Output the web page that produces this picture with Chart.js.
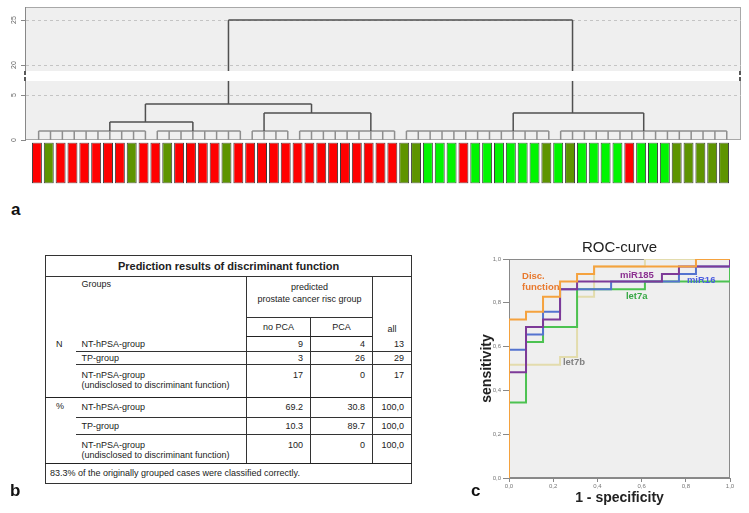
<!DOCTYPE html>
<html>
<head>
<meta charset="utf-8">
<script src="https://cdn.jsdelivr.net/npm/chart.js@4.4.1/dist/chart.umd.min.js"></script>
<style>
html, body { margin: 0; padding: 0; background: #fff; }
body { width: 749px; height: 513px; position: relative; overflow: hidden; font-family: "Liberation Sans", Arial, sans-serif; }
.box { position: absolute; }
#dendroBox { left: 0; top: 0; width: 749px; height: 142px; }
#barsBox { left: 30px; top: 140.5px; width: 701px; height: 44px; }
#rocBox { left: 460px; top: 236px; width: 285px; height: 277px; }
.panel { position: absolute; font: bold 17px "Liberation Sans", Arial, sans-serif; color: #111; }
#tbl { position: absolute; left: 45px; top: 255px; width: 366px; border-collapse: collapse; table-layout: fixed;
       font-size: 9px; line-height: 10px; color: #222; border: 1px solid #333; }
#tbl td { padding: 0; white-space: nowrap; overflow: hidden; }
#tbl .title { text-align: center; font-weight: bold; font-size: 11px; border-bottom: 1px solid #333; }
#tbl .num { text-align: right; padding-right: 7px; border-left: 1px solid #333; }
#tbl .grp { padding-left: 6px; }
#tbl .blk { padding-left: 10px; vertical-align: top; padding-top: 3px; }
#tbl .end td { border-bottom: 1.5px solid #222; }
</style>
</head>
<body>
<div class="box" id="dendroBox"><canvas id="dendro"></canvas></div>
<div class="box" id="barsBox"><canvas id="bars"></canvas></div>
<div class="box" id="rocBox"><canvas id="roc"></canvas></div>
<table id="tbl"></table>
<div class="panel" style="left:11px;top:200px">a</div>
<div class="panel" style="left:10px;top:481px">b</div>
<div class="panel" style="left:471px;top:481px">c</div>

<script>
// ---- panel a: cluster dendrogram ----
// R = TP-group, O = NT-hPSA-group, G = NT-nPSA-group (left to right)
var leafColors = ['R','O','R','R','R','R','R','R','O','R',
                  'R','O','R','R','R','R','O','R','R','R',
                  'R','R','R','R','R','R','R','R','R','R',
                  'R','O','O','G','G','G','R','G','G','G',
                  'G','G','G','O','G','O','G','G','G','G',
                  'R','G','G','G','O','O','O','O','O'];
var colorMap = { R: '#ff0000', O: '#5e9400', G: '#00f500' };

// first/last leaf of each low-level cluster, and the leaf its stem rises from
var clusterRanges = [[1, 10], [11, 18], [19, 22], [23, 31], [32, 44], [45, 59]];
var clusterStems = [7, 14, 20, 29, 41, 52];
var clusterHeight = 1;
// merges: [left node, right node, height]; clusters are nodes 0-5, merge k is node 6+k
var merges = [[0, 1, 2], [2, 3, 3], [6, 7, 4], [4, 5, 3], [8, 9, 25]];
var yTickLabels = [0, 5, 20, 25];

// broken axis: values above the break are drawn shifted down
var AXIS_GAP = 11.67;
function toDisplay(v) { return v > 12 ? v - AXIS_GAP : v; }

function buildDendro() {
    var comb = [], links = [];
    function seg(arr, x1, y1, x2, y2) {
        arr.push({x: x1, y: toDisplay(y1)}, {x: x2, y: toDisplay(y2)}, {x: x2, y: null});
    }
    var nodes = [];
    clusterRanges.forEach(function (r, k) {
        seg(comb, r[0], clusterHeight, r[1], clusterHeight);
        for (var i = r[0]; i <= r[1]; i++) seg(comb, i, 0, i, clusterHeight);
        nodes.push({x: clusterStems[k], h: clusterHeight});
    });
    merges.forEach(function (m) {
        var a = nodes[m[0]], b = nodes[m[1]], h = m[2];
        seg(links, a.x, a.h, a.x, h);
        seg(links, b.x, b.h, b.x, h);
        seg(links, a.x, h, b.x, h);
        nodes.push({x: Math.floor((a.x + b.x) / 2), h: h});
    });
    return {comb: comb, links: links};
}

var plotFrame = {
    id: 'plotFrame',
    beforeDraw: function (chart, args, opts) {
        var a = chart.chartArea, ctx = chart.ctx;
        ctx.save();
        ctx.fillStyle = opts.fill;
        ctx.fillRect(a.left, a.top, a.right - a.left, a.bottom - a.top);
        ctx.strokeStyle = opts.stroke;
        ctx.lineWidth = 1;
        ctx.strokeRect(a.left + 0.5, a.top + 0.5, a.right - a.left - 1, a.bottom - a.top - 1);
        ctx.restore();
    }
};

var axisBreak = {
    id: 'axisBreak',
    afterDatasetsDraw: function (chart, args, opts) {
        var a = chart.chartArea, ctx = chart.ctx, ys = chart.scales.y;
        var top = ys.getPixelForValue(opts.to), bot = ys.getPixelForValue(opts.from);
        ctx.save();
        ctx.fillStyle = '#fff';
        ctx.fillRect(a.left - 3, top, a.right - a.left + 6, bot - top);
        ctx.strokeStyle = '#222';
        ctx.lineWidth = 1.5;
        [a.left, a.right - 1].forEach(function (x) {
            ctx.beginPath();
            ctx.moveTo(x, top); ctx.lineTo(x, top + 4);
            ctx.moveTo(x, bot - 4); ctx.lineTo(x, bot);
            ctx.stroke();
        });
        ctx.restore();
    }
};

var dendro = buildDendro();
new Chart(document.getElementById('dendro'), {
    type: 'line',
    data: {
        datasets: [
            {data: dendro.links, borderColor: '#505050', borderWidth: 1.5, pointRadius: 0, spanGaps: false},
            {data: dendro.comb, borderColor: '#8e8e8e', borderWidth: 1.5, pointRadius: 0, spanGaps: false}
        ]
    },
    options: {
        animation: false,
        responsive: true,
        maintainAspectRatio: false,
        layout: {padding: {top: 7, right: 8, bottom: 2, left: 0}},
        plugins: {
            legend: {display: false},
            tooltip: {enabled: false},
            plotFrame: {fill: '#efefef', stroke: '#a8a8a8'},
            axisBreak: {from: 6.56, to: 7.67}
        },
        scales: {
            x: {type: 'linear', min: -0.15, max: 60.2, display: false},
            y: {
                type: 'linear', min: 0, max: 14.78,
                afterFit: function (s) { s.width = 25; s.paddingTop = 0; s.paddingBottom = 0; },
                afterBuildTicks: function (s) {
                    s.ticks = yTickLabels.map(function (v) { return {value: toDisplay(v)}; });
                },
                ticks: {
                    callback: function (v, i) { return yTickLabels[i]; },
                    font: {size: 7}, color: '#666',
                    minRotation: 90, maxRotation: 90, crossAlign: 'center', padding: 3
                },
                grid: {
                    color: function (c) { return c.index === 0 ? 'rgba(0,0,0,0)' : '#c4c4c4'; },
                    tickLength: 4, tickColor: '#888'
                },
                border: {display: true, color: '#888', dash: [3, 3]}
            }
        }
    },
    plugins: [plotFrame, axisBreak]
});

new Chart(document.getElementById('bars'), {
    type: 'bar',
    data: {
        labels: leafColors.map(function (c, i) { return i + 1; }),
        datasets: [{
            data: leafColors.map(function () { return 1; }),
            backgroundColor: leafColors.map(function (c) { return colorMap[c]; }),
            borderColor: '#3a3a3a',
            borderWidth: 1,
            borderSkipped: false,
            barPercentage: 0.84,
            categoryPercentage: 1
        }]
    },
    options: {
        animation: false,
        responsive: true,
        maintainAspectRatio: false,
        layout: {padding: {left: 1, right: 1, top: 1.5, bottom: 1.5}},
        plugins: {legend: {display: false}, tooltip: {enabled: false}},
        scales: {x: {display: false}, y: {display: false, min: 0, max: 1}}
    }
});

// ---- panel b: prediction table ----
var tableTitle = 'Prediction results of discriminant function';
var groupNames = ['NT-hPSA-group', 'TP-group', 'NT-nPSA-group'];
var groupNotes = ['', '', '(undisclosed to discriminant function)'];
var countNoPca = ['9', '3', '17'];
var countPca = ['4', '26', '0'];
var countAll = ['13', '29', '17'];
var pctNoPca = ['69.2', '10.3', '100'];
var pctPca = ['30.8', '89.7', '0'];
var pctAll = ['100,0', '100,0', '100,0'];
var footnote = '83.3% of the originally grouped cases were classified correctly.';

(function () {
    var rowH = {n: [15, 13.5, 32.2], p: [20.6, 17, 29]};
    var h = '<colgroup><col style="width:30px"><col style="width:171px"><col style="width:64px">' +
            '<col style="width:62px"><col style="width:39px"></colgroup>';
    h += '<tr style="height:21px"><td colspan="5" class="title">' + tableTitle + '</td></tr>';
    h += '<tr style="height:40.7px"><td rowspan="2"></td>' +
         '<td rowspan="2" class="grp" style="vertical-align:top;padding-top:2px">Groups</td>' +
         '<td colspan="2" style="text-align:center;vertical-align:top;padding-top:4px;line-height:12px;border-left:1px solid #333;border-bottom:1px solid #333">predicted<br>prostate cancer risc group</td>' +
         '<td rowspan="2" style="border-left:1px solid #333;vertical-align:bottom;text-align:center;padding-bottom:2px">all</td></tr>';
    h += '<tr class="end" style="height:19.3px"><td style="text-align:center;border-left:1px solid #333">no PCA</td>' +
         '<td style="text-align:center;border-left:1px solid #333">PCA</td></tr>';
    function block(label, a, b, c, heights) {
        var s = '';
        for (var i = 0; i < 3; i++) {
            var two = groupNotes[i] !== '';
            var va = two ? 'vertical-align:top;padding-top:5px;' : '';
            var bb = 'border-bottom:' + (i === 2 ? '1.5px solid #222' : '1px solid #333');
            s += '<tr style="height:' + heights[i] + 'px">';
            if (i === 0) s += '<td rowspan="3" class="blk" style="border-bottom:1.5px solid #222">' + label + '</td>';
            s += '<td class="grp" style="' + va + bb + '">' +
                 groupNames[i] + (two ? '<br>' + groupNotes[i] : '') + '</td>';
            [a[i], b[i], c[i]].forEach(function (v) {
                s += '<td class="num" style="' + va + bb + '">' + v + '</td>';
            });
            s += '</tr>';
        }
        return s;
    }
    h += block('N', countNoPca, countPca, countAll, rowH.n);
    h += block('%', pctNoPca, pctPca, pctAll, rowH.p);
    h += '<tr style="height:19.4px"><td colspan="5" style="padding-left:4px">' + footnote + '</td></tr>';
    document.getElementById('tbl').innerHTML = h;
})();

// ---- panel c: ROC curves (1 - specificity, sensitivity) ----
var discX   = [0, 0, 0.077, 0.077, 0.154, 0.154, 0.231, 0.231, 0.308, 0.308, 0.385, 0.385, 0.846, 0.846, 1];
var discY   = [0, 0.724, 0.724, 0.759, 0.759, 0.828, 0.828, 0.897, 0.897, 0.931, 0.931, 0.966, 0.966, 1, 1];
var mir185X = [0, 0, 0.077, 0.077, 0.154, 0.154, 0.231, 0.231, 0.308, 0.308, 0.692, 0.692, 0.769, 0.769, 1, 1];
var mir185Y = [0, 0.483, 0.483, 0.690, 0.690, 0.724, 0.724, 0.862, 0.862, 0.897, 0.897, 0.931, 0.931, 0.966, 0.966, 1];
var mir16X  = [0, 0, 0.077, 0.077, 0.154, 0.154, 0.231, 0.231, 0.462, 0.462, 0.769, 0.769, 0.846, 0.846, 1, 1];
var mir16Y  = [0, 0.586, 0.586, 0.655, 0.655, 0.759, 0.759, 0.862, 0.862, 0.897, 0.897, 0.931, 0.931, 0.966, 0.966, 1];
var let7aX  = [0, 0, 0.077, 0.077, 0.154, 0.154, 0.308, 0.308, 0.615, 0.615, 1, 1];
var let7aY  = [0, 0.345, 0.345, 0.621, 0.621, 0.690, 0.690, 0.862, 0.862, 0.897, 0.897, 1];
var let7bX  = [0, 0, 0.231, 0.231, 0.308, 0.308, 0.385, 0.385, 0.615, 0.615, 1];
var let7bY  = [0, 0.517, 0.517, 0.552, 0.552, 0.828, 0.828, 0.966, 0.966, 1, 1];
var rocTicks = [0, 0.2, 0.4, 0.6, 0.8, 1];

function pts(xs, ys) { return xs.map(function (x, i) { return {x: x, y: ys[i]}; }); }
function comma(v) { return v.toFixed(1).replace('.', ','); }

var rocLabels = {
    id: 'rocLabels',
    afterDatasetsDraw: function (chart, args, opts) {
        var ctx = chart.ctx, xs = chart.scales.x, ys = chart.scales.y;
        ctx.save();
        ctx.font = 'bold 9.5px "Liberation Sans", Arial, sans-serif';
        ctx.textAlign = 'left';
        ctx.textBaseline = 'middle';
        opts.items.forEach(function (it) {
            ctx.fillStyle = it.color;
            it.lines.forEach(function (t, k) {
                ctx.fillText(t, xs.getPixelForValue(it.x), ys.getPixelForValue(it.y) + k * 11);
            });
        });
        ctx.restore();
    }
};

function rocLine(data, color) {
    return {data: data, borderColor: color, borderWidth: 2, pointRadius: 0, tension: 0};
}

new Chart(document.getElementById('roc'), {
    type: 'line',
    data: {
        datasets: [
            rocLine(pts(discX, discY), '#f5a23e'),
            rocLine(pts(mir185X, mir185Y), '#7d3a98'),
            rocLine(pts(mir16X, mir16Y), '#5473cf'),
            rocLine(pts(let7aX, let7aY), '#4cc251'),
            rocLine(pts(let7bX, let7bY), '#e3dcad')
        ]
    },
    options: {
        animation: false,
        responsive: true,
        maintainAspectRatio: false,
        layout: {padding: {top: 0, right: 15, bottom: 0, left: 0}},
        plugins: {
            legend: {display: false},
            tooltip: {enabled: false},
            title: {
                display: true, text: 'ROC-curve', fullSize: false, color: '#222',
                font: {size: 15, weight: 'normal', family: '"Liberation Sans", Arial, sans-serif'},
                padding: {top: 3, bottom: 2}
            },
            plotFrame: {fill: '#efefef', stroke: '#8a8a8a'},
            rocLabels: {items: [
                {lines: ['Disc.', 'function'], x: 0.059, y: 0.92, color: '#e8792e'},
                {lines: ['miR185'], x: 0.502, y: 0.924, color: '#8b3191'},
                {lines: ['miR16'], x: 0.805, y: 0.901, color: '#4c5ee0'},
                {lines: ['let7a'], x: 0.529, y: 0.83, color: '#37a845'},
                {lines: ['let7b'], x: 0.244, y: 0.53, color: '#808080'}
            ]}
        },
        scales: {
            x: {
                type: 'linear', min: 0, max: 1,
                afterFit: function (s) { s.height = 35; },
                afterBuildTicks: function (s) { s.ticks = rocTicks.map(function (v) { return {value: v}; }); },
                ticks: {callback: comma, font: {size: 6}, color: '#777', padding: 1, maxRotation: 0},
                grid: {drawOnChartArea: false, tickLength: 4, tickColor: '#888'},
                border: {color: '#888'},
                title: {display: true, text: '1 - specificity', color: '#222',
                        font: {size: 14, weight: 'bold', family: '"Liberation Sans", Arial, sans-serif'},
                        padding: {top: 0, bottom: 6}}
            },
            y: {
                type: 'linear', min: 0, max: 1,
                afterFit: function (s) { s.width = 49; },
                afterBuildTicks: function (s) { s.ticks = rocTicks.map(function (v) { return {value: v}; }); },
                ticks: {callback: comma, font: {size: 6}, color: '#777', padding: 2},
                grid: {drawOnChartArea: false, tickLength: 6, tickColor: '#888'},
                border: {color: '#888'},
                title: {display: true, text: 'sensitivity', color: '#222',
                        font: {size: 14, weight: 'bold', family: '"Liberation Sans", Arial, sans-serif'},
                        padding: {top: 19, bottom: 0}}
            }
        }
    },
    plugins: [plotFrame, rocLabels]
});
</script>
</body>
</html>
